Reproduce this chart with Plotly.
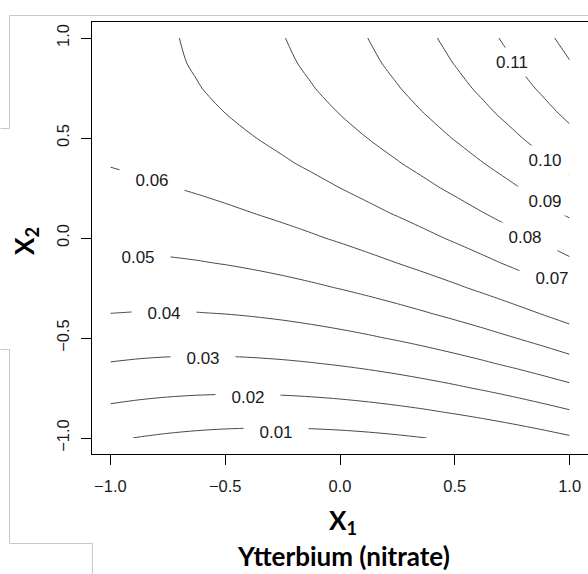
import plotly.graph_objects as go

# ---- data (response surface grid, rows = X2, cols = X1) ----
x1_vals = [-1.0, -0.875, -0.75, -0.625, -0.5, -0.375, -0.25, -0.125, 0.0,
           0.125, 0.25, 0.375, 0.5, 0.625, 0.75, 0.875, 1.0]
x2_vals = [-1.0, -0.875, -0.75, -0.625, -0.5, -0.375, -0.25, -0.125, 0.0,
           0.125, 0.25, 0.375, 0.5, 0.625, 0.75, 0.875, 1.0]
z_rows = [
    [0.01100, 0.00972, 0.00868, 0.00787, 0.00730, 0.00697, 0.00688, 0.00702, 0.00740,
     0.00802, 0.00888, 0.00997, 0.01130, 0.01287, 0.01468, 0.01672, 0.01900],
    [0.01769, 0.01660, 0.01575, 0.01514, 0.01477, 0.01463, 0.01473, 0.01507, 0.01564,
     0.01645, 0.01750, 0.01879, 0.02032, 0.02208, 0.02408, 0.02632, 0.02879],
    [0.02394, 0.02305, 0.02239, 0.02198, 0.02179, 0.02185, 0.02214, 0.02268, 0.02344,
     0.02445, 0.02569, 0.02718, 0.02889, 0.03085, 0.03304, 0.03548, 0.03814],
    [0.02976, 0.02906, 0.02859, 0.02837, 0.02838, 0.02863, 0.02912, 0.02984, 0.03081,
     0.03201, 0.03344, 0.03512, 0.03703, 0.03918, 0.04157, 0.04419, 0.04706],
    [0.03513, 0.03462, 0.03435, 0.03432, 0.03453, 0.03497, 0.03565, 0.03657, 0.03773,
     0.03912, 0.04075, 0.04262, 0.04473, 0.04707, 0.04965, 0.05247, 0.05553],
    [0.04006, 0.03974, 0.03967, 0.03983, 0.04023, 0.04087, 0.04174, 0.04286, 0.04421,
     0.04579, 0.04762, 0.04968, 0.05198, 0.05452, 0.05729, 0.06031, 0.06356],
    [0.04454, 0.04443, 0.04454, 0.04490, 0.04549, 0.04633, 0.04739, 0.04870, 0.05024,
     0.05203, 0.05404, 0.05630, 0.05879, 0.06153, 0.06449, 0.06770, 0.07114],
    [0.04859, 0.04867, 0.04898, 0.04953, 0.05032, 0.05134, 0.05260, 0.05410, 0.05584,
     0.05782, 0.06003, 0.06248, 0.06517, 0.06809, 0.07125, 0.07465, 0.07829],
    [0.05220, 0.05247, 0.05298, 0.05372, 0.05470, 0.05592, 0.05738, 0.05907, 0.06100,
     0.06317, 0.06558, 0.06822, 0.07110, 0.07422, 0.07758, 0.08117, 0.08500],
    [0.05537, 0.05583, 0.05653, 0.05747, 0.05864, 0.06005, 0.06170, 0.06359, 0.06572,
     0.06808, 0.07068, 0.07352, 0.07659, 0.07990, 0.08345, 0.08724, 0.09127],
    [0.05809, 0.05875, 0.05964, 0.06078, 0.06214, 0.06375, 0.06559, 0.06768, 0.06999,
     0.07255, 0.07534, 0.07838, 0.08164, 0.08515, 0.08889, 0.09288, 0.09709],
    [0.06038, 0.06123, 0.06232, 0.06364, 0.06521, 0.06701, 0.06904, 0.07132, 0.07383,
     0.07658, 0.07957, 0.08279, 0.08626, 0.08996, 0.09389, 0.09807, 0.10248],
    [0.06223, 0.06327, 0.06455, 0.06607, 0.06783, 0.06982, 0.07205, 0.07452, 0.07723,
     0.08017, 0.08335, 0.08677, 0.09043, 0.09432, 0.09845, 0.10282, 0.10743],
    [0.06363, 0.06487, 0.06634, 0.06806, 0.07001, 0.07219, 0.07462, 0.07728, 0.08018,
     0.08332, 0.08669, 0.09031, 0.09416, 0.09824, 0.10257, 0.10713, 0.11193],
    [0.06459, 0.06603, 0.06769, 0.06960, 0.07174, 0.07413, 0.07674, 0.07960, 0.08269,
     0.08603, 0.08959, 0.09340, 0.09744, 0.10173, 0.10624, 0.11100, 0.11599],
    [0.06512, 0.06674, 0.06861, 0.07071, 0.07304, 0.07562, 0.07843, 0.08148, 0.08477,
     0.08829, 0.09206, 0.09606, 0.10029, 0.10477, 0.10948, 0.11443, 0.11962],
    [0.06520, 0.06702, 0.06908, 0.07137, 0.07390, 0.07667, 0.07968, 0.08292, 0.08640,
     0.09012, 0.09408, 0.09827, 0.10270, 0.10737, 0.11228, 0.11742, 0.12280],
]
level_start, level_end, level_step = 0.01, 0.12, 0.01

label_texts = ["0.01", "0.02", "0.03", "0.04", "0.05", "0.06",
               "0.07", "0.08", "0.09", "0.10", "0.11"]
label_x1 = [-0.278, -0.40, -0.596, -0.765, -0.878, -0.817,
            0.922, 0.804, 0.891, 0.891, 0.748]
label_x2 = [-0.97, -0.795, -0.60, -0.375, -0.095, 0.29,
            -0.20, 0.005, 0.185, 0.39, 0.88]

tick_vals = [-1.0, -0.5, 0.0, 0.5, 1.0]

# ---- layout geometry (pixels) ----
W, H = 588, 574
ML, MR, MT, MB = 92, 0, 22, 120
PW, PH = W - ML - MR, H - MT - MB


def px_x(px):
    return (px - ML) / PW


def px_y(py):
    return (H - MB - py) / PH


LINE_COL = "#4a4a4a"
TXT_COL = "#1a1a1a"
TICK_FONT = dict(family="Liberation Sans, Arial, sans-serif", size=16.5, color=TXT_COL)

fig = go.Figure()
fig.add_trace(go.Contour(
    x=x1_vals, y=x2_vals, z=z_rows,
    contours=dict(start=level_start, end=level_end, size=level_step,
                  coloring="lines", showlabels=False),
    colorscale=[[0, LINE_COL], [1, LINE_COL]],
    showscale=False,
    line=dict(width=1, smoothing=0.8),
    hoverinfo="skip",
))

annotations = []
for t, lx, ly in zip(label_texts, label_x1, label_x2):
    annotations.append(dict(
        x=lx, y=ly, xref="x", yref="y", text=t, showarrow=False,
        font=dict(family="Liberation Sans, Arial, sans-serif", size=17, color=TXT_COL),
        bgcolor="white", width=64, height=28, borderpad=0,
        xanchor="center", yanchor="middle",
    ))

title_font = dict(family="Lato, Open Sans, sans-serif", size=26, color="black")
annotations.append(dict(x=px_x(343), y=px_y(521), xref="paper", yref="paper",
                        text="<b>X<sub>1</sub></b>", showarrow=False,
                        font=title_font, xanchor="center", yanchor="middle"))
annotations.append(dict(x=px_x(343), y=px_y(556), xref="paper", yref="paper",
                        text="<b>Ytterbium (nitrate)</b>", showarrow=False,
                        font=title_font, xanchor="center", yanchor="middle"))
annotations.append(dict(x=px_x(25), y=px_y(241), xref="paper", yref="paper",
                        text="<b>X<sub>2</sub></b>", showarrow=False, textangle=-90,
                        font=title_font, xanchor="center", yanchor="middle"))

# faint frame lines of the surrounding figure panel
GRAY = "#c8c8c8"
segs = [
    ((0, 128), (9, 128)), ((9, 128), (9, 15)), ((9, 15), (588, 15)),
    ((0, 349), (9, 349)), ((9, 349), (9, 543)), ((9, 543), (92, 543)),
    ((92, 543), (92, 574)),
]
shapes = []
for (xa, ya), (xb, yb) in segs:
    shapes.append(dict(type="line", xref="paper", yref="paper",
                       x0=px_x(xa + 0.5), y0=px_y(ya + 0.5),
                       x1=px_x(xb + 0.5), y1=px_y(yb + 0.5),
                       line=dict(color=GRAY, width=1), layer="below"))

axis_common = dict(
    range=[-1.08, 1.08], tickvals=tick_vals, tickformat=".1f",
    ticks="outside", ticklen=10, tickwidth=1, tickcolor="black",
    showline=True, linecolor="black", linewidth=1, mirror=True,
    showgrid=False, zeroline=False, tickfont=TICK_FONT,
)

fig.update_layout(
    width=W, height=H,
    margin=dict(l=ML, r=MR, t=MT, b=MB, pad=0),
    paper_bgcolor="white", plot_bgcolor="white",
    xaxis=dict(**axis_common, ticklabelstandoff=7),
    yaxis=dict(**axis_common, tickangle=-90, ticklabelstandoff=5),
    annotations=annotations, shapes=shapes,
    showlegend=False,
)

fig.write_html("out.html")
